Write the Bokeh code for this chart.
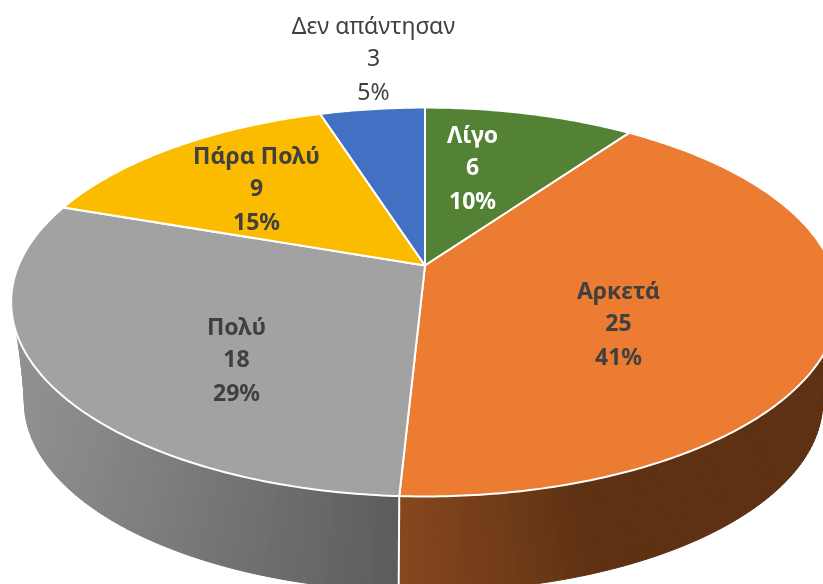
import math
from bokeh.plotting import figure
from bokeh.models import Range1d
from bokeh.core.properties import value
from bokeh.embed import file_html
from bokeh.resources import INLINE

categories = ["Λίγο", "Αρκετά", "Πολύ", "Πάρα Πολύ", "Δεν απάντησαν"]
values = [6, 25, 18, 9, 3]
percents = ["10%", "41%", "29%", "15%", "5%"]
colors = ["#548235", "#EB7C32", "#A2A2A2", "#FBBC00", "#4271C4"]
label_colors = ["#FFFFFF", "#404040", "#404040", "#404040", "#404040"]
label_bold = [True, True, True, True, False]
label_centers = [(472, 133), (618, 289), (236, 325), (256, 154), (373, 24)]

# projection of the pie disc (screen pixels of the 823x584 page)
K = 0.1877
TOP = dict(cx=424.5, cy=265.0, a=406.5, b=187.6)
BOT = dict(cx=423.0, cy=366.0, a=392.0, b=182.8)
W, H = 823, 584
LINE_GAP = 33


def project(deg, d, r=1.0):
    t = math.radians(deg)
    X, Y = r * math.sin(t), -r * math.cos(t)
    q = 1 - K * Y
    return d["cx"] + d["a"] * X / q, d["cy"] + d["b"] * Y / q


def hexmix(c0, c1, f):
    f = max(0.0, min(1.0, f))
    rgb = [round(c0[i] + (c1[i] - c0[i]) * f) for i in range(3)]
    return "#%02x%02x%02x" % tuple(rgb)


total = sum(values)
edges = [0.0]
for v in values:
    edges.append(edges[-1] + 360.0 * v / total)

# pinned to the window's corner so that the full 823x584 figure fits the window
p = figure(width=W, height=H, output_backend="svg", toolbar_location=None,
           x_range=Range1d(0, W), y_range=Range1d(H, 0),
           min_border=0, outline_line_color=None, background_fill_color="#FFFFFF",
           border_fill_color="#FFFFFF",
           styles={"position": "fixed", "left": "0px", "top": "0px"})
p.axis.visible = False
p.grid.visible = False

# wall: quads between the upper and lower rims, shaded by x
GRAY_L, GRAY_R = (0x90, 0x90, 0x90), (0x5C, 0x5C, 0x5C)
OR_L, OR_R = (0x86, 0x48, 0x1E), (0x5E, 0x31, 0x13)
boundary = edges[2]
T_END_L, P_END_L = 250.0, 262.0
T_END_R, P_END_R = 110.0, 98.0


def wall(t0, t1, p0, p1, n, shade):
    xs, ys, cs = [], [], []
    for i in range(n):
        f0, f1 = i / n, (i + 1) / n
        a0, a1 = t0 + (t1 - t0) * f0, t0 + (t1 - t0) * f1
        b0, b1 = p0 + (p1 - p0) * f0, p0 + (p1 - p0) * f1
        q = [project(a0, TOP), project(a1, TOP), project(b1, BOT), project(b0, BOT)]
        xs.append([c[0] for c in q])
        ys.append([c[1] for c in q])
        cs.append(shade(sum(c[0] for c in q) / 4))
    p.patches(xs, ys, fill_color=cs, line_color=cs, line_width=1)


wall(boundary, T_END_L, boundary, P_END_L, 70,
     lambda x: hexmix(GRAY_L, GRAY_R, (x - 23) / (400 - 23)))
wall(boundary, T_END_R, boundary, P_END_R, 76,
     lambda x: hexmix(OR_L, OR_R, (x - 400) / (590 - 400)))

sx0, sy0 = project(boundary, TOP)
sx1, sy1 = project(boundary, BOT)
p.line([sx0, sx1], [sy0, sy1], line_color="#FFFFFF", line_width=2)

# top face
for i, c in enumerate(colors):
    a0, a1 = edges[i], edges[i + 1]
    n = max(4, int((a1 - a0) * 1.5))
    pts = [project(a0 + (a1 - a0) * j / n, TOP) for j in range(n + 1)]
    xs = [TOP["cx"]] + [q[0] for q in pts]
    ys = [TOP["cy"]] + [q[1] for q in pts]
    p.patch(xs, ys, fill_color=c, line_color="#FFFFFF", line_width=2, line_join="round")

# labels
for i, name in enumerate(categories):
    cx, cy = label_centers[i]
    lines = [name, str(values[i]), percents[i]]
    for j, s in enumerate(lines):
        p.text([cx], [cy + j * LINE_GAP], text=[s], text_align="center",
               text_baseline="middle", text_color=label_colors[i],
               text_font=value("Noto Sans"), text_font_size="23px",
               text_font_style="bold" if label_bold[i] else "normal")

open("out.html", "w").write(file_html(p, INLINE))
